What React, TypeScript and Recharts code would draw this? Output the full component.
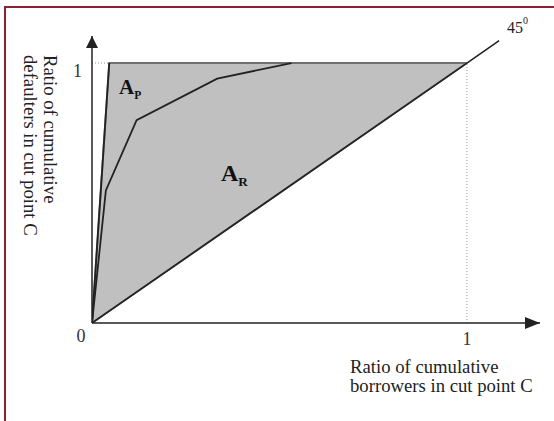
import {
  ComposedChart,
  Area,
  Line,
  XAxis,
  YAxis,
  ReferenceLine,
  ReferenceDot,
  Customized,
} from "recharts";

// perfect model (upper boundary of the shaded area)
const perfectX = [0, 0.046, 1];
const perfectY = [0, 1, 1];
// random model, 45 degree line (lower boundary)
const randomX = [0, 1, 1.086];
const randomY = [0, 1, 1.086];
const shadeLow = [0, 0.046, 1];
// rating model curve
const modelX = [0, 0.037, 0.119, 0.334, 0.532];
const modelY = [0, 0.51, 0.78, 0.94, 1];

const xTicks = [0, 1];
const yTicks = [1];
const xMax = 1.195;
const yMax = 1.104;

const serif = '"Liberation Serif", "Times New Roman", serif';
const ink = "#222";

const shadeData = perfectX.map((x, i) => ({ x, range: [shadeLow[i], perfectY[i]] }));
const perfectData = perfectX.slice(0, 2).map((x, i) => ({ x, y: perfectY[i] }));
const randomData = randomX.map((x, i) => ({ x, y: randomY[i] }));
const modelData = modelX.map((x, i) => ({ x, y: modelY[i] }));

const XTick = (props: any) => {
  const { x, y, payload } = props;
  const dx = payload.value === 0 ? -11 : 0;
  const dy = payload.value === 0 ? 19 : 22;
  return (
    <text x={x + dx} y={y + dy} textAnchor="middle" fontFamily={serif} fontSize={18} fill="#333">
      {payload.value}
    </text>
  );
};

const YTick = (props: any) => {
  const { x, y, payload } = props;
  return (
    <text x={x - 10} y={y + 14} textAnchor="end" fontFamily={serif} fontSize={18} fill="#333">
      {payload.value}
    </text>
  );
};

const AxisTitles = () => (
  <g fontFamily={serif} fontSize={18.7} fill="#222">
    <text transform="translate(44,55) rotate(90)">Ratio of cumulative</text>
    <text transform="translate(24,55) rotate(90)">defaulters in cut point C</text>
    <text x={350} y={373}>Ratio of cumulative</text>
    <text x={350} y={392}>borrowers in cut point C</text>
  </g>
);

const arrowUp = (p: any) => (
  <polygon points={`${p.cx},${p.cy} ${p.cx - 6},${p.cy + 12} ${p.cx + 6},${p.cy + 12}`} fill={ink} />
);
const arrowRight = (p: any) => (
  <polygon points={`${p.cx},${p.cy} ${p.cx - 15},${p.cy - 6} ${p.cx - 15},${p.cy + 6}`} fill={ink} />
);

const areaLabel = (main: string, sub: string, size: number) => (p: any) => (
  <text x={p.cx} y={p.cy} fontFamily={serif} fontWeight="bold" fontSize={size} fill="#111">
    {main}
    <tspan fontSize={size * 0.55} dy={5}>{sub}</tspan>
  </text>
);

const degLabel = (p: any) => (
  <text x={p.cx} y={p.cy} fontFamily={serif} fontSize={16} fill="#222">
    45
    <tspan fontSize={10} dy={-9}>0</tspan>
  </text>
);

export default function App() {
  return (
    <div style={{ position: "absolute", left: 0, top: 0, width: 554, height: 421, background: "#fff" }}>
      <div
        style={{
          position: "absolute",
          left: 4,
          top: 6,
          right: 0,
          bottom: 0,
          borderLeft: "2px solid #8a2232",
          borderTop: "2px solid #8a2232",
        }}
      />
      <ComposedChart
        width={554}
        height={421}
        margin={{ top: 36, right: 14, bottom: 68, left: 62 }}
        style={{ position: "absolute", left: 0, top: 0 }}
      >
        <XAxis
          type="number"
          dataKey="x"
          domain={[0, xMax]}
          ticks={xTicks}
          height={30}
          tickSize={0}
          tickMargin={0}
          tickLine={false}
          allowDataOverflow
          axisLine={{ stroke: ink, strokeWidth: 1.5 }}
          tick={XTick}
        />
        <YAxis
          type="number"
          domain={[0, yMax]}
          ticks={yTicks}
          width={30}
          tickSize={0}
          tickMargin={0}
          tickLine={false}
          allowDataOverflow
          axisLine={{ stroke: ink, strokeWidth: 1.5 }}
          tick={YTick}
        />
        <Area
          data={shadeData}
          dataKey="range"
          type="linear"
          fill="#c0c0c0"
          fillOpacity={1}
          stroke="#707070"
          strokeWidth={2}
          isAnimationActive={false}
        />
        <ReferenceLine
          segment={[{ x: 0, y: 1 }, { x: perfectX[1], y: 1 }]}
          stroke="#999"
          strokeDasharray="1 2"
          ifOverflow="visible"
        />
        <ReferenceLine
          segment={[{ x: 1, y: 0 }, { x: 1, y: 1 }]}
          stroke="#999"
          strokeDasharray="1 2"
          ifOverflow="visible"
        />
        <Line data={perfectData} dataKey="y" type="linear" stroke={ink} strokeWidth={1.8} dot={false} isAnimationActive={false} />
        <Line data={modelData} dataKey="y" type="linear" stroke={ink} strokeWidth={1.8} dot={false} isAnimationActive={false} />
        <Line data={randomData} dataKey="y" type="linear" stroke={ink} strokeWidth={1.6} dot={false} isAnimationActive={false} />
        <ReferenceDot x={0} y={yMax} r={0} shape={arrowUp} ifOverflow="visible" />
        <ReferenceDot x={xMax} y={0} r={0} shape={arrowRight} ifOverflow="visible" />
        <ReferenceDot x={0.072} y={0.881} r={0} shape={areaLabel("A", "P", 21)} ifOverflow="visible" />
        <ReferenceDot x={0.344} y={0.546} r={0} shape={areaLabel("A", "R", 24)} ifOverflow="visible" />
        <ReferenceDot x={1.107} y={1.115} r={0} shape={degLabel} ifOverflow="visible" />
        <Customized component={AxisTitles} />
      </ComposedChart>
    </div>
  );
}
